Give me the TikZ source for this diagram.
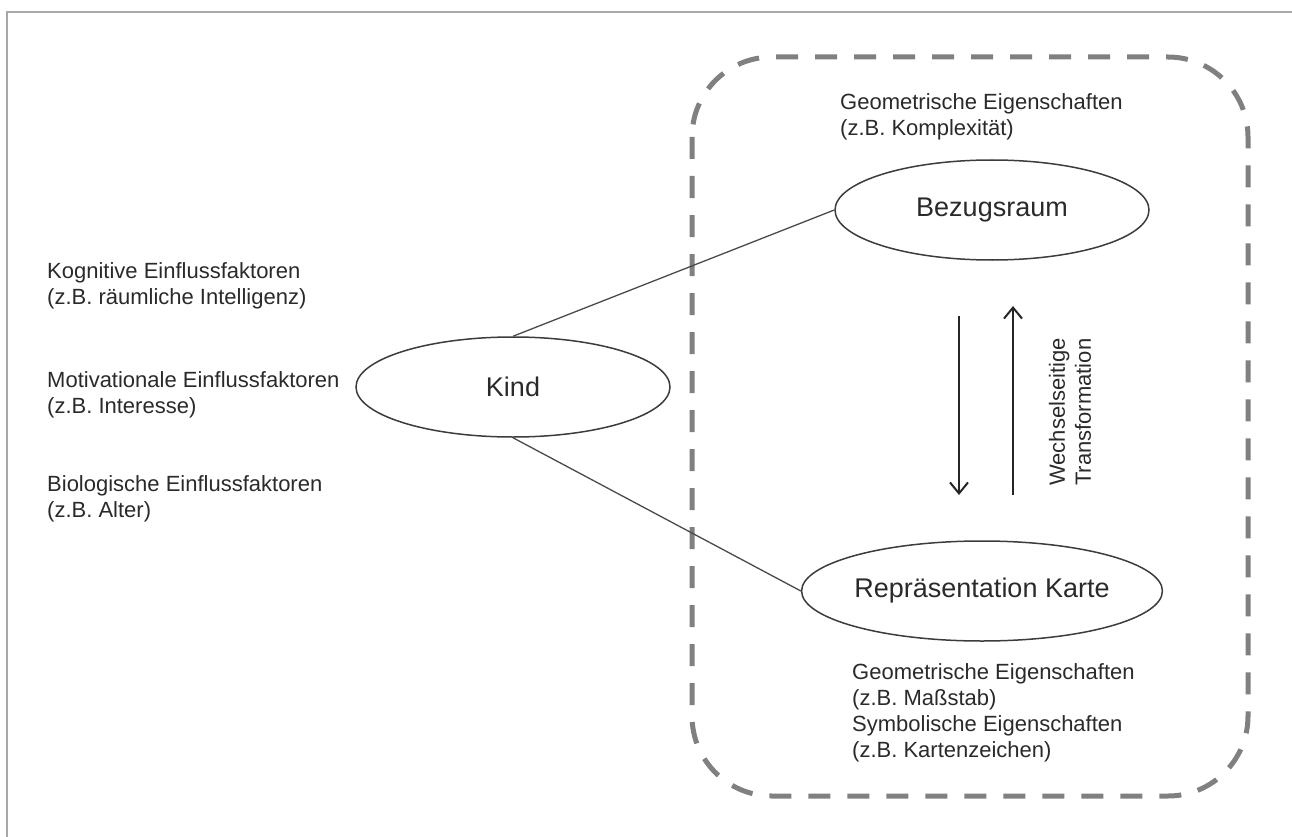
\documentclass[tikz,border=0pt]{standalone}
\usepackage{fontspec}
\setmainfont{Liberation Sans}
\usetikzlibrary{arrows.meta,shapes.geometric}
\definecolor{txtc}{HTML}{2A2A2A}
\definecolor{ellc}{HTML}{3C3C3C}
\definecolor{linec}{HTML}{4A4A4A}
\definecolor{dashc}{HTML}{808080}
\definecolor{framec}{HTML}{A8A8A8}
\begin{document}
\begin{tikzpicture}[x=1pt,y=-1pt,
  lbl/.style={anchor=west, align=left, inner sep=0pt, text=txtc, font=\fontsize{22}{26}\selectfont},
  ell/.style={ellipse, draw=ellc, line width=1.5pt, minimum width=314pt, minimum height=100pt, inner sep=0pt, text=txtc, font=\fontsize{27}{32}\selectfont},
  conn/.style={draw=linec, line width=1.3pt},
  arr/.style={draw=black!85, line width=2pt, -{Straight Barb[length=11pt,width=18pt,line width=2pt]}},
  dashbox/.style={draw=dashc, line width=5pt, dash pattern=on 22pt off 17pt, rounded corners=80pt},
  framel/.style={draw=framec, line width=2pt}
]
\useasboundingbox (0,0) rectangle (1292,837);
% outer frame
\draw[framel] (7,837) -- (7,12) -- (1292,12);
% dashed region
\draw[dashbox] (692,57) rectangle (1248,796);
% left labels
\node[lbl] (kog) at (47,286) {Kognitive Einflussfaktoren\\(z.B. räumliche Intelligenz)};
\node[lbl] (mot) at (47,395) {Motivationale Einflussfaktoren\\(z.B. Interesse)};
\node[lbl] (bio) at (47,499) {Biologische Einflussfaktoren\\(z.B. Alter)};
% ellipses
\node[ell] (kind) at (513,387) {Kind\hspace{26pt}};
\node[ell] (bezug) at (992,210) {\raisebox{-6pt}{Bezugsraum}\hspace{14pt}};
\node[ell] (repr) at (982,591) {Repräsentation Karte};
% connectors
\draw[conn] (kind.north) -- (bezug.west);
\draw[conn] (kind.south) -- (repr.west);
% property labels
\node[lbl] (geo1) at (840,117) {Geometrische Eigenschaften\\(z.B. Komplexität)};
\node[lbl] (geo2) at (852,713) {Geometrische Eigenschaften\\(z.B. Maßstab)\\Symbolische Eigenschaften\\(z.B. Kartenzeichen)};
% transformation arrows
\coordinate (d1) at (959,316);
\coordinate (d2) at (959,495);
\coordinate (u1) at (1013,495);
\coordinate (u2) at (1013,306);
\draw[arr] (d1) -- (d2);
\draw[arr] (u1) -- (u2);
\node[lbl, anchor=center, rotate=90] (trans) at (1070,412) {Wechselseitige\\Transformation};
\end{tikzpicture}
\end{document}
